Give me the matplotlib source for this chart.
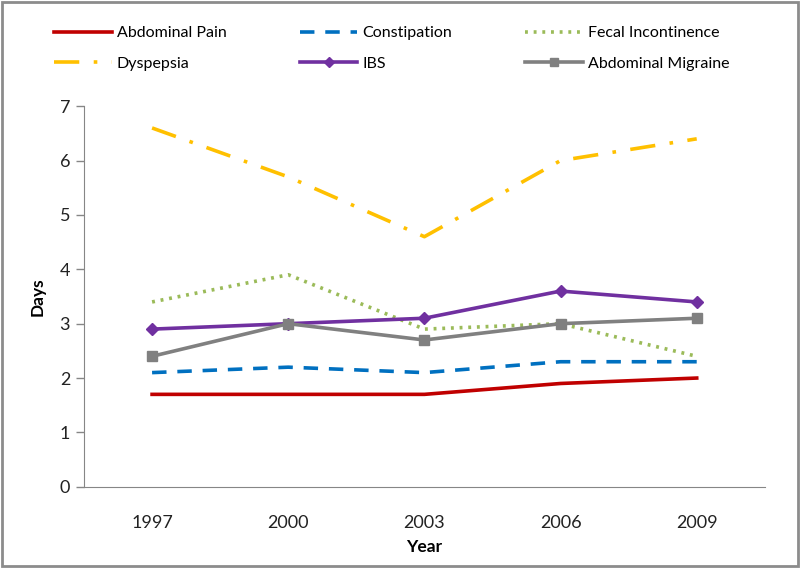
import matplotlib
matplotlib.use('Agg')
import matplotlib.pyplot as plt
from matplotlib.patches import Rectangle

plt.rcParams['font.family'] = ['Lato', 'DejaVu Sans']

years = ['1997', '2000', '2003', '2006', '2009']
abdominal_pain = [1.7, 1.7, 1.7, 1.9, 2.0]
constipation = [2.1, 2.2, 2.1, 2.3, 2.3]
fecal_incontinence = [3.4, 3.9, 2.9, 3.0, 2.4]
dyspepsia = [6.6, 5.7, 4.6, 6.0, 6.4]
ibs = [2.9, 3.0, 3.1, 3.6, 3.4]
abdominal_migraine = [2.4, 3.0, 2.7, 3.0, 3.1]

x = list(range(len(years)))

fig = plt.figure(figsize=(8, 5.68), dpi=100)
ax = fig.add_axes([0.105, 0.143, 0.851, 0.670])

h_ap, = ax.plot(x, abdominal_pain, color='#C00000', lw=2.6, label='Abdominal Pain')
h_co, = ax.plot(x, constipation, color='#0070C0', lw=2.6, dashes=(4, 3), label='Constipation')
h_fi, = ax.plot(x, fecal_incontinence, color='#9BBB59', lw=2.6, dashes=(0.8, 1.6), label='Fecal Incontinence')
h_dy, = ax.plot(x, dyspepsia, color='#FFC000', lw=2.6, dashes=(7, 4, 1, 4), label='Dyspepsia')
h_ib, = ax.plot(x, ibs, color='#7030A0', lw=2.6, marker='D', markersize=6.5, label='IBS')
h_am, = ax.plot(x, abdominal_migraine, color='#808080', lw=2.6, marker='s', markersize=7.5, label='Abdominal Migraine')

ax.set_xlim(-0.5, 4.5)
ax.set_ylim(0, 7)
ax.set_xticks(x)
ax.set_xticklabels(years)
ax.set_yticks(range(0, 8))
ax.tick_params(axis='x', length=0, pad=20, labelsize=13, colors='#222222')
ax.tick_params(axis='y', length=6, width=1, color='#868686', pad=4, labelsize=13, colors='#222222')
for s in ['top', 'right']:
    ax.spines[s].set_visible(False)
for s in ['left', 'bottom']:
    ax.spines[s].set_color('#868686')

ax.set_xlabel('Year', fontsize=12.5, fontweight='bold', labelpad=6)
ax.set_ylabel('Days', fontsize=12.5, fontweight='bold', labelpad=10)

# row-major order for the legend (fig.legend fills columns first)
handles = [h_ap, h_dy, h_co, h_ib, h_fi, h_am]
fig.legend(handles=handles, labels=[h.get_label() for h in handles],
           loc='upper left', bbox_to_anchor=(0.05, 0.979), ncol=3, frameon=False,
           fontsize=11.5, handlelength=3.6, columnspacing=4.6, handletextpad=0.3,
           labelspacing=1.0, markerscale=0.8)

fig.patches.append(Rectangle((0.002, 0.003), 0.996, 0.994, transform=fig.transFigure,
                             fill=False, edgecolor='#8c8c8c', lw=2))

fig.savefig('out.png', dpi=100)
plt.close()
